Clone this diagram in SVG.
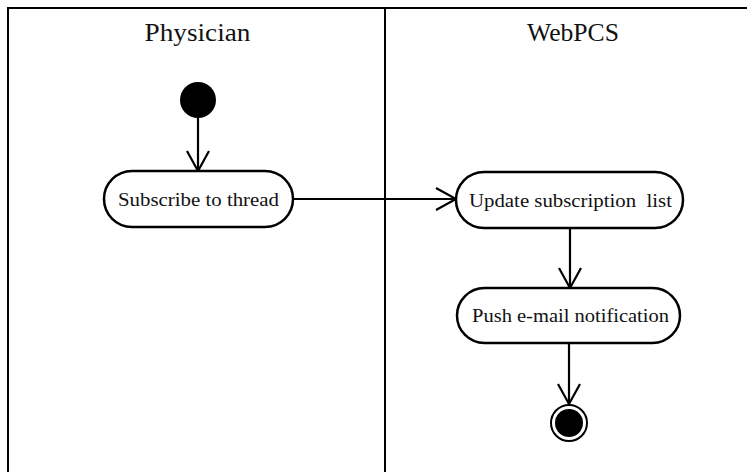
<svg xmlns="http://www.w3.org/2000/svg" width="747" height="472" viewBox="0 0 747 472">
  <defs>
    <marker id="open" markerWidth="24" markerHeight="24" viewBox="0 0 24 24" refX="21" refY="12" orient="auto" markerUnits="userSpaceOnUse">
      <path d="M1 1 L21 12 L1 23" fill="none" stroke="#000" stroke-width="2.2"/>
    </marker>
  </defs>
  <style>
    .lane { stroke: #000; stroke-width: 2; fill: none; }
    .title { font-family: "Liberation Serif", "DejaVu Serif", serif; font-size: 25px; fill: #111; text-anchor: middle; }
    .act rect { fill: #fff; stroke: #000; stroke-width: 2.5; }
    .act text { font-family: "Liberation Serif", "DejaVu Serif", serif; font-size: 19px; fill: #111; text-anchor: middle; }
    .edge { stroke: #000; stroke-width: 2.2; fill: none; marker-end: url(#open); }
  </style>
  <rect width="747" height="472" fill="#fff"/>

  <!-- swimlanes -->
  <g id="lanes">
    <path class="lane" d="M8 472 V8 H747"/>
    <path class="lane" d="M385 8 V472"/>
    <text class="title" x="197.5" y="41" textLength="106" lengthAdjust="spacingAndGlyphs">Physician</text>
    <text class="title" x="573" y="41" textLength="92" lengthAdjust="spacingAndGlyphs">WebPCS</text>
  </g>

  <!-- connectors -->
  <g id="connectors">
    <path class="edge" d="M198 118 V171"/>
    <path class="edge" d="M293 199 H456"/>
    <path class="edge" d="M570 228 V288"/>
    <path class="edge" d="M569 343 V404"/>
  </g>

  <g id="start">
    <circle cx="198" cy="100" r="18" fill="#000"/>
  </g>

  <g id="subscribe" class="act">
    <rect x="104" y="171" width="189" height="56" rx="28"/>
    <text x="198.5" y="206" textLength="161" lengthAdjust="spacingAndGlyphs">Subscribe to thread</text>
  </g>

  <g id="update" class="act">
    <rect x="456" y="172" width="227" height="56" rx="28"/>
    <text x="570.5" y="207" xml:space="preserve" textLength="203" lengthAdjust="spacingAndGlyphs">Update subscription  list</text>
  </g>

  <g id="push" class="act">
    <rect x="457" y="288" width="223" height="55" rx="27.5"/>
    <text x="570.5" y="322" textLength="197" lengthAdjust="spacingAndGlyphs">Push e-mail notification</text>
  </g>

  <g id="end">
    <circle cx="569" cy="423" r="18" fill="#fff" stroke="#000" stroke-width="2"/>
    <circle cx="569" cy="423" r="14" fill="#000"/>
  </g>
</svg>
